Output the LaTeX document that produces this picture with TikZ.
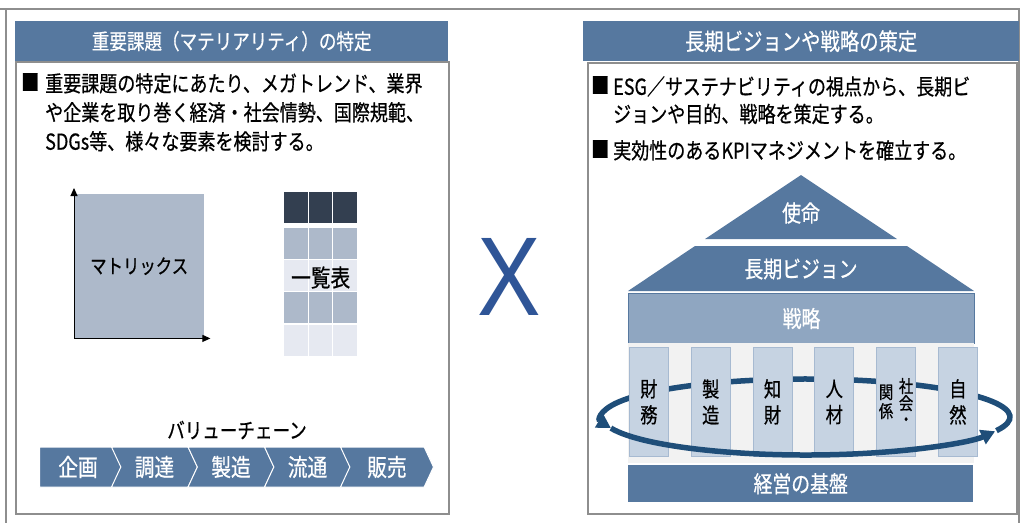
\documentclass[tikz,border=0pt]{standalone}
\usepackage{fontspec}
\usepackage{tikz}
\usetikzlibrary{calc,positioning,arrows.meta,shapes.symbols}
\newfontfamily\jp[FakeStretch=0.82,FakeBold=0.6]{Noto Sans CJK JP}
\newfontfamily\xfont{Liberation Sans}
\definecolor{hdblue}{HTML}{56789F}
\definecolor{mtxgray}{HTML}{ADB9CA}
\definecolor{tbldark}{HTML}{333F50}
\definecolor{tbllight}{HTML}{E6E9F1}
\definecolor{xblue}{HTML}{2F5597}
\definecolor{stratblue}{HTML}{8FA6C1}
\definecolor{pillarblue}{HTML}{C6D3E2}
\definecolor{pillarline}{HTML}{A7BAD1}
\definecolor{loopblue}{HTML}{1F4E79}
\definecolor{framegray}{HTML}{8E8E8E}
\tikzstyle{header}    = [rectangle, fill=hdblue, text=white, inner sep=0pt, minimum height=40pt, anchor=north west]
\tikzstyle{panel}     = [rectangle, draw=framegray, line width=1.5pt, inner sep=0pt, anchor=north west]
\tikzstyle{body}      = [inner sep=0pt, anchor=north west, align=left, font=\jp\fontsize{22}{29}\selectfont]
\tikzstyle{mtxaxis}   = [line width=1pt, -{Triangle[length=8pt,width=7pt]}]
\tikzstyle{cellrow}   = [rectangle, inner sep=0pt, minimum width=73pt, minimum height=31pt]
\tikzstyle{vcstep}    = [signal, signal to=east, signal from=west, signal pointer angle=130,
                         fill=hdblue, draw=white, line width=1pt, text=white, inner sep=0pt,
                         minimum height=40pt, minimum width=86pt, font=\jp\fontsize{24}{24}\selectfont]
\tikzstyle{roof}      = [fill=hdblue]
\tikzstyle{house}     = [text=white, font=\jp\fontsize{23}{23}\selectfont]
\tikzstyle{pillar}    = [rectangle, fill=pillarblue, draw=pillarline, line width=0.8pt, inner sep=0pt,
                         minimum width=39pt, minimum height=109pt, align=center,
                         font=\jp\fontsize{21}{26}\selectfont]
\tikzstyle{turnarrow} = [draw=loopblue, line width=5.5pt, -{Triangle[length=14pt,width=15pt,fill=loopblue]}]

\begin{document}
\begin{tikzpicture}[x=1pt, y=-1pt, node distance=22pt]
	\useasboundingbox (0,0) rectangle (1021,523);
	\draw[framegray, line width=1.5pt] (0,9) -- (1019,9) -- (1019,523);
	\draw[framegray, line width=1.5pt] (6,9) -- (6,523);

	% left panel
	\node[header, minimum width=433pt, font=\jp\fontsize{21.4}{21.4}\selectfont] (hdL) at (15,21) {重要課題（マテリアリティ）の特定};
	\node[panel, minimum width=433pt, minimum height=452pt] (bodyL) at (15,61) {};
	\node[body] (bulL) at (21,73) {■};
	\node[body] (txtL) at (45,73) {重要課題の特定にあたり、メガトレンド、業界\\や企業を取り巻く経済・社会情勢、国際規範、\\SDGs等、様々な要素を検討する。};

	\node[rectangle, fill=mtxgray, minimum width=130pt, minimum height=144pt, anchor=north west,
		font=\jp\fontsize{20}{20}\selectfont] (mtx) at (74,194) {マトリックス};
	\draw[mtxaxis] (mtx.south west) -- ([yshift=6pt]mtx.north west);
	\draw[mtxaxis] (mtx.south west) -- ([xshift=6pt]mtx.south east);

	\node[cellrow, fill=tbldark, anchor=north west] (row1) at (284,192) {};
	\node[cellrow, fill=mtxgray, below=4pt of row1] (row2) {};
	\node[cellrow, fill=tbllight, below=1pt of row2] (row3) {};
	\node[cellrow, fill=mtxgray, below=1pt of row3] (row4) {};
	\node[cellrow, fill=tbllight, below=1pt of row4] (row5) {};
	\draw[white, line width=1.2pt] ([xshift=24.3pt]row1.north west) -- ([xshift=24.3pt]row5.south west);
	\draw[white, line width=1.2pt] ([xshift=48.7pt]row1.north west) -- ([xshift=48.7pt]row5.south west);
	\node[font=\jp\fontsize{24}{24}\selectfont] (list) at ([yshift=-2pt]row3.center) {一覧表};

	\node[font=\jp\fontsize{21.4}{21.4}\selectfont] (vctitle) at (237,430) {バリューチェーン};
	\node[vcstep, signal from=nowhere] (vc1) at (78,467) {企画};
	\node[vcstep] (vc2) at (154.5,467) {調達};
	\node[vcstep] (vc3) at (231,467) {製造};
	\node[vcstep] (vc4) at (307.5,467) {流通};
	\node[vcstep, minimum width=93pt] (vc5) at (387,467) {販売};

	\node[text=xblue, font=\xfont\fontsize{112}{112}\selectfont, inner sep=0pt] (cross) at (509,277) {\scalebox{0.85}[1]{X}};

	% right panel
	\node[header, minimum width=436pt, font=\jp\fontsize{23.6}{23.6}\selectfont] (hdR) at (583,21) {長期ビジョンや戦略の策定};
	\node[panel, minimum width=429pt, minimum height=451pt] (bodyR) at (587,62) {};
	\node[body] (bulR1) at (591,76) {■};
	\node[body, font=\jp\fontsize{22}{27.5}\selectfont] (txtR1) at (613,76) {ESG／サステナビリティの視点から、長期ビ\\ジョンや目的、戦略を策定する。};
	\node[body] (bulR2) at (591,140) {■};
	\node[body] (txtR2) at (613,140) {実効性のあるKPIマネジメントを確立する。};

	\fill[roof] (801,175) -- (897,239) -- (705,239) -- cycle;
	\node[house] (mission) at (801,213) {使命};
	\fill[roof] (695,246) -- (907,246) -- (974,291) -- (628,291) -- cycle;
	\node[house] (vision) at (801,269) {長期ビジョン};
	\node[house, rectangle, fill=stratblue, draw=hdblue, line width=1pt, minimum width=346pt,
		minimum height=50pt, anchor=north west] (strat) at (628,293) {戦略};

	\fill[gray!10] (628,343) rectangle (974,463);
	\coordinate (hub) at (806,417);
	\draw[turnarrow] ([shift={(21:204 and 38)}]hub) arc[start angle=21, end angle=-197, x radius=204, y radius=38];

	\node[pillar, anchor=north west] (p1) at (629,347) {財\\務};
	\node[pillar, right=of p1] (p2) {製\\造};
	\node[pillar, right=of p2] (p3) {知\\財};
	\node[pillar, right=of p3] (p4) {人\\材};
	\node[pillar, right=of p4] (p5) {};
	\node[pillar, right=of p5] (p6) {自\\然};
	\node[font=\jp\fontsize{17.5}{16}\selectfont, align=center] (p5a) at ([xshift=10pt]p5.center) {社\\会\\・};
	\node[font=\jp\fontsize{17.5}{19}\selectfont, align=center] (p5b) at ([xshift=-10pt]p5.center) {関\\係};

	\draw[turnarrow] ([shift={(163:204 and 38)}]hub) arc[start angle=163, end angle=22, x radius=204, y radius=38];

	\node[house, rectangle, fill=hdblue, minimum width=345pt, minimum height=37pt,
		anchor=north west] (base) at (628,465) {経営の基盤};
\end{tikzpicture}
\end{document}
